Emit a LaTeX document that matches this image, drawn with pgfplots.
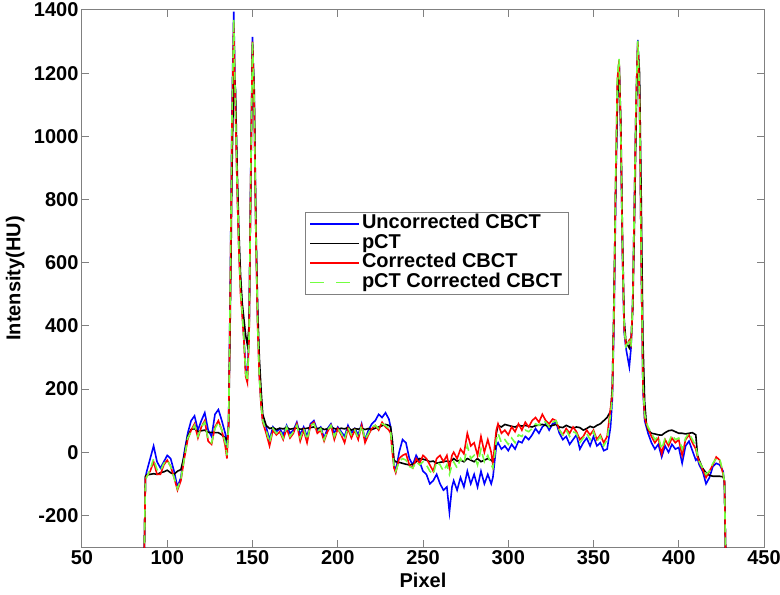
\documentclass[border=0pt]{standalone}
\usepackage{fontspec}
\setmainfont{Liberation Sans}
\usepackage{pgfplots}
\pgfplotsset{compat=1.18}
\usepackage{pgfplotstable}
\definecolor{mblue}{rgb}{0,0,1}
\definecolor{mred}{rgb}{1,0,0}
\definecolor{mgreen}{rgb}{0.45,1,0.25}
\definecolor{axgray}{rgb}{0.5,0.5,0.5}
\pgfplotstableread{
x b k r g
86.5 -330 -330 -330 -330
87.2 -80 -76 -85 -88
88 -60 -72 -75 -78
90 -20 -70 -60 -55
92 20 -68 -30 -20
94 -30 -70 -70 -55
96 -50 -65 -70 -60
98 -30 -62 -40 -35
100 -10 -57 -25 -25
102 -20 -65 -45 -45
104 -60 -70 -80 -80
106 -110 -60 -120 -115
108 -80 -55 -90 -85
110 0 -10 -20 -20
112 60 50 40 45
114 100 72 70 65
116 115 75 90 85
118 70 65 45 50
120 100 68 80 80
122 125 70 100 95
124 70 63 35 40
126 50 63 25 30
128 120 62 80 75
130 135 62 100 95
132 100 55 70 70
134 60 45 20 30
135 10 38 -20 -10
136 100 80 90 95
137 550 450 520 540
138 1100 900 1050 1080
139 1395 1200 1360 1370
140 1100 1150 1080 1090
141 850 900 830 840
142 650 700 640 650
143 520 560 500 510
144 450 470 430 440
145 360 420 350 355
146 260 370 240 250
147 250 340 220 225
148 380 400 360 370
149 900 850 880 890
150 1315 1290 1300 1300
151 1110 1150 1100 1110
152 690 720 680 690
153 420 460 400 410
154 250 300 240 245
155 160 200 150 155
156 100 120 95 100
158 80 85 60 70
160 40 75 20 30
162 80 78 70 75
164 65 72 55 60
166 75 76 65 70
168 55 74 40 45
170 85 78 75 80
172 60 73 45 50
174 70 75 60 65
176 95 77 90 85
178 55 73 35 45
180 80 74 70 75
182 50 76 30 40
184 90 78 85 85
186 100 80 95 90
188 70 75 60 65
190 80 77 70 75
192 45 72 35 40
194 75 74 65 70
196 90 80 85 85
198 60 75 40 50
200 80 72 75 75
202 65 76 55 60
204 50 74 30 40
206 85 78 75 80
208 60 70 45 55
210 75 75 70 70
212 55 73 40 45
214 90 76 85 85
216 40 72 30 40
218 70 75 55 60
220 90 72 75 80
222 100 76 85 85
224 120 80 70 75
226 110 84 95 90
228 125 88 80 85
230 105 85 70 75
231 80 80 60 65
232 20 40 0 10
233 -40 -25 -50 -45
234 -60 -30 -65 -60
236 0 -32 -20 -30
238 40 -35 -10 -20
240 30 -38 -5 -25
242 -20 -40 -40 -45
244 -40 -38 -50 -50
246 -10 -30 -20 -30
248 -30 -20 -35 -40
250 -60 -22 -10 -30
252 -70 -25 -20 -40
254 -100 -30 -40 -60
256 -90 -28 -60 -70
258 -70 -35 -20 -30
260 -100 -32 -10 -40
262 -120 -30 -30 -60
264 -110 -28 -10 -40
265.5 -190 -30 -50 -70
267 -110 -25 -10 -40
268 -90 -20 0 -30
270 -120 -28 -20 -50
272 -80 -25 10 -20
274 -110 -30 -5 -35
276 -60 -20 60 20
278 -100 -25 20 -20
280 -70 -30 30 -10
282 -110 -20 -10 -40
284 -60 -30 50 10
286 -100 -25 0 -30
288 -70 -20 40 -10
290 -100 -25 0 -40
291 -80 -30 -40 -50
292 -30 0 20 -10
293 20 60 70 40
294 30 85 90 60
296 10 80 60 30
298 20 88 70 40
300 5 85 55 25
302 25 82 80 45
304 10 80 65 30
306 35 85 90 55
308 30 83 70 50
310 50 85 95 70
312 40 82 80 65
314 55 80 100 75
316 75 84 110 90
318 60 86 95 85
320 80 88 120 100
322 90 85 100 95
324 70 82 90 80
326 90 85 105 95
328 95 88 100 100
330 60 80 70 70
332 40 78 55 55
334 50 85 75 70
336 25 80 60 50
338 40 76 80 65
340 55 80 65 60
342 10 78 40 30
344 30 70 50 45
346 45 75 70 60
348 20 82 55 40
350 50 78 70 65
352 20 85 40 35
354 30 90 55 50
356 5 100 30 20
358 10 110 50 40
360 80 130 140 120
361 165 200 180 170
362 400 480 430 450
363 800 850 850 870
364 1150 1100 1180 1190
365 1240 1230 1240 1245
366 1000 1050 1020 1020
367 620 680 630 640
368 380 420 390 395
369 330 350 340 335
370 300 340 345 345
371 270 330 355 350
372 330 350 340 335
373 480 450 470 480
374 800 720 790 800
375 1120 1050 1120 1125
376 1305 1290 1300 1303
377 1130 1200 1120 1125
378 600 800 600 610
379 200 350 210 220
380 100 160 110 120
381 80 90 90 95
382 60 70 75 80
384 30 60 50 60
386 10 58 30 40
388 25 55 45 50
390 -15 54 -5 10
392 20 62 40 45
394 0 68 20 30
396 25 70 45 55
398 10 65 30 40
400 15 60 40 45
402 -35 60 -10 10
404 20 58 40 45
406 35 60 55 60
408 5 62 30 40
410 -25 55 10 20
411 -20 -10 -15 -10
412 -40 -25 -30 -30
414 -60 -51 -55 -50
416 -100 -65 -80 -70
418 -80 -73 -60 -60
420 -45 -76 -40 -35
422 -35 -76 -15 -20
424 -40 -76 -25 -20
426 -60 -78 -70 -65
426.8 -100 -90 -95 -95
427.5 -330 -330 -330 -330
}\data

\begin{document}
\begin{tikzpicture}
\begin{axis}[
  scale only axis, width=682pt, height=537pt,
  xmin=50, xmax=450, ymin=-300, ymax=1400,
  xtick={50,100,...,450}, xticklabels={50,100,150,200,250,300,350,400,450},
  ytick={-200,0,...,1400}, yticklabels={-200,0,200,400,600,800,1000,1200,1400},
  axis line style={axgray, line width=1pt},
  tick style={axgray, line width=1pt},
  major tick length=7pt,
  tick align=inside,
  ticklabel style={font=\fontsize{20}{24}\selectfont\bfseries, black},
  xlabel={Pixel}, ylabel={Intensity(HU)},
  label style={font=\fontsize{20}{24}\selectfont\bfseries},
  xlabel style={at={(axis description cs:0.5,-0.0615)}, anchor=center},
  ylabel style={at={(axis description cs:-0.098,0.5)}, anchor=center},
  legend cell align=left,
  legend style={at={(0.327,0.624)}, anchor=north west, draw=axgray, line width=0.8pt,
    font=\fontsize{20}{20}\selectfont\bfseries, row sep=0pt, column sep=0pt,
    inner xsep=4pt, inner ysep=2pt,
    nodes={inner xsep=2pt, inner ysep=0pt, text height=14.5pt, text depth=5pt}},
  clip=true,
]
\addplot[mblue, line width=1.6pt, legend image code/.code={\draw[mblue, line width=1.6pt] (0pt,0pt)--(49pt,0pt);}] table[x=x,y=b] {\data};
\addlegendentry{Uncorrected CBCT}
\addplot[black, line width=1.6pt, legend image code/.code={\draw[black, line width=1.6pt] (0pt,0pt)--(49pt,0pt);}] table[x=x,y=k] {\data};
\addlegendentry{pCT}
\addplot[mred, line width=1.6pt, legend image code/.code={\draw[mred, line width=1.6pt] (0pt,0pt)--(49pt,0pt);}] table[x=x,y=r] {\data};
\addlegendentry{Corrected CBCT}
\addplot[mgreen, line width=1.6pt, dash pattern=on 8pt off 5pt, legend image code/.code={\draw[mgreen, line width=1.6pt, dash pattern=on 14pt off 12pt] (0pt,0pt)--(49pt,0pt);}] table[x=x,y=g] {\data};
\addlegendentry{pCT Corrected CBCT}
\coordinate (SW) at (rel axis cs:0,0);
\coordinate (NE) at (rel axis cs:1,1);
\end{axis}
\pgfresetboundingbox
\path ([xshift=-82pt,yshift=-47pt]SW) rectangle ([xshift=16pt,yshift=10pt]NE);
\end{tikzpicture}
\end{document}
